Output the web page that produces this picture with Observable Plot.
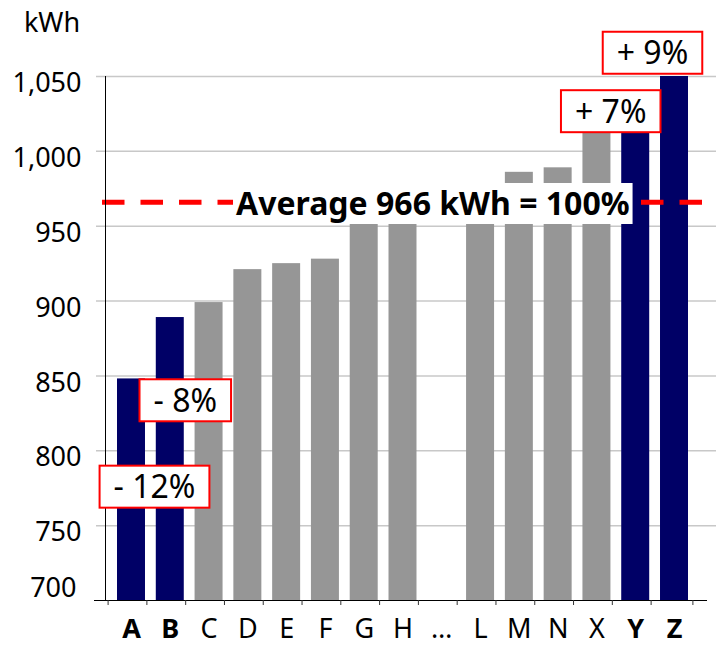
<!DOCTYPE html>
<html><head><meta charset="utf-8">
<script src="https://cdn.jsdelivr.net/npm/d3@7"></script>
<script src="https://cdn.jsdelivr.net/npm/@observablehq/plot@0.6"></script>
<style>html,body{margin:0;padding:0;background:#fff} svg{display:block}</style>
</head><body><div id="chart"></div>
<script>
// ---- data ----
const categories = ["A","B","C","D","E","F","G","H","…","L","M","N","X","Y","Z"];
const values = [848, 889, 899, 921, 925, 928, 952, 955, null, 958, 986, 989, 1015, 1034, 1053];
const highlighted = ["A","B","Y","Z"];
const yTicks = [700, 750, 800, 850, 900, 950, 1000, 1050];
const average = 966;
const averageLabel = "Average 966 kWh = 100%";
const unitLabel = "kWh";
const noteCategories = ["A","B","Y","Z"];
const noteTexts = ["- 12%","- 8%","+ 7%","+ 9%"];

// ---- layout / style (not data) ----
const W = 716, H = 647;
const mL = 105, mR = 9, mT = 76, mB = 47;
const xInsetL = 6.6, xInsetR = 13.6;
const bw = (W - mL - mR - xInsetL - xInsetR) / categories.length;
const frameH = H - mT - mB;
const noteOffsets = {A: [23, 109], B: [15, 84], Y: [-25, 12], Z: [-22, -18]};
const NAVY = "#000066", GREY = "#969696";

const rows = categories.map((c, i) => ({cat: c, value: values[i]})).filter(d => d.value != null);
const notes = noteCategories.map((c, i) => ({cat: c, label: noteTexts[i], value: values[categories.indexOf(c)]}));
const fmt = d3.format(",");

const plot = Plot.plot({
  width: W, height: H,
  marginLeft: mL, marginRight: mR, marginTop: mT, marginBottom: mB,
  x: {type: "band", domain: categories, padding: 0, round: false, insetLeft: xInsetL, insetRight: xInsetR, axis: null},
  y: {domain: [700, 1050], axis: null},
  style: {fontFamily: "'Noto Sans', sans-serif", background: "white", color: "black"},
  marks: [
    // gridlines
    Plot.ruleY(yTicks.filter(t => t > 700), {stroke: "#c8c8c8", strokeWidth: 1.5, insetLeft: -9, insetRight: -9}),
    // bars
    Plot.barY(rows.filter(d => !highlighted.includes(d.cat)), {x: "cat", y1: 700, y2: "value", fill: GREY, insetLeft: 5.4, insetRight: 5.4, clip: true}),
    Plot.barY(rows.filter(d => highlighted.includes(d.cat)), {x: "cat", y1: 700, y2: "value", fill: NAVY, insetLeft: 5.4, insetRight: 5.4, clip: true}),
    // average dashed line
    Plot.ruleY([average], {stroke: "#ff0000", strokeWidth: 5, strokeDasharray: "22.5,16", insetLeft: -3, insetRight: -9}),
    // y axis line
    Plot.ruleX([categories[0]], {dx: -bw / 2 - xInsetL, stroke: "black", strokeWidth: 1}),
    // x axis line
    Plot.ruleY([700], {stroke: "black", strokeWidth: 1.2, insetLeft: -11}),
    // x tick marks at band boundaries
    Plot.ruleX(categories, {x: d => d, dx: -bw / 2 - 4, insetTop: frameH, insetBottom: -5, stroke: "#333", strokeWidth: 1}),
    Plot.ruleX([categories[categories.length - 1]], {dx: bw / 2 - 1, insetTop: frameH, insetBottom: -5, stroke: "#333", strokeWidth: 1}),
    // y tick labels
    Plot.text(yTicks.filter(t => t > 700), {y: d => d, text: d => fmt(d), frameAnchor: "left", textAnchor: "end", lineAnchor: "middle", dx: -24, dy: 7, fontSize: 27, fill: "black"}),
    Plot.text(yTicks.filter(t => t === 700), {y: d => d, text: d => fmt(d), frameAnchor: "left", textAnchor: "end", lineAnchor: "middle", dx: -29, dy: -12, fontSize: 27, fill: "black"}),
    // unit label
    Plot.text([unitLabel], {frameAnchor: "top-left", textAnchor: "middle", lineAnchor: "middle", dx: -53.5, dy: -53, fontSize: 27, fill: "black"}),
    // x labels
    Plot.text(categories.filter(c => !highlighted.includes(c)), {x: d => d, text: d => d, frameAnchor: "bottom", lineAnchor: "middle", dy: 29, fontSize: 27, fill: "black"}),
    Plot.text(categories.filter(c => highlighted.includes(c)), {x: d => d, text: d => d, frameAnchor: "bottom", lineAnchor: "middle", dy: 29, fontSize: 27, fontWeight: "bold", fill: "black"}),
    // average label
    Plot.text([averageLabel], {x: () => "…", y: () => average, text: d => d, dx: -9, dy: 2.5, fontSize: 32, fontWeight: "bold", fill: "black", lineAnchor: "middle"}),
    // percentage notes
    ...notes.map(n => Plot.text([n], {x: "cat", y: "value", text: "label", dx: noteOffsets[n.cat][0], dy: noteOffsets[n.cat][1], fontSize: 32, fill: "black", lineAnchor: "middle"}))
  ]
});

document.getElementById("chart").appendChild(plot);

// boxes behind labels
const NS = "http://www.w3.org/2000/svg";
plot.querySelectorAll("text").forEach(t => {
  const s = t.textContent;
  const isNote = noteTexts.includes(s);
  const isAvg = s === averageLabel;
  if (!isNote && !isAvg) return;
  const bb = t.getBBox();
  const w = isNote ? bb.width + 28 : bb.width + 6;
  const h = isNote ? 42 : 41;
  const cx = bb.x + bb.width / 2, cy = bb.y + bb.height / 2 + 1;
  const r = document.createElementNS(NS, "rect");
  r.setAttribute("x", cx - w / 2);
  r.setAttribute("y", cy - h / 2);
  r.setAttribute("width", w);
  r.setAttribute("height", h);
  r.setAttribute("fill", "white");
  const tr = t.getAttribute("transform");
  if (tr) r.setAttribute("transform", tr);
  if (isNote) { r.setAttribute("stroke", "#ff0000"); r.setAttribute("stroke-width", 2); }
  t.parentNode.insertBefore(r, t);
});
</script>
</body></html>
